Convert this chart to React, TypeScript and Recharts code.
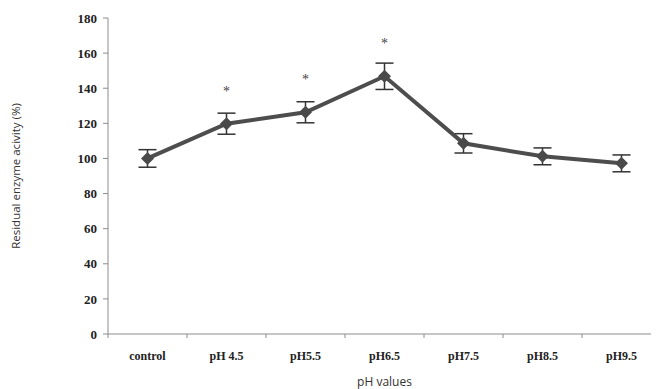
import { LineChart, Line, XAxis, YAxis, ErrorBar, LabelList } from 'recharts';

const categories = ['control', 'pH 4.5', 'pH5.5', 'pH6.5', 'pH7.5', 'pH8.5', 'pH9.5'];
const activity = [100, 119.8, 126.3, 146.8, 108.6, 101.2, 97.2];
const sd = [5, 6, 6, 7.5, 5.5, 4.8, 4.8];
const significant = [false, true, true, true, false, false, false];
const yTicks = [0, 20, 40, 60, 80, 100, 120, 140, 160, 180];

const data = categories.map((c, i) => ({ name: c, value: activity[i], err: sd[i], sig: significant[i] }));

const BAND = 79;
const axisGrey = '#8c8c8c';

function XTick(props: any) {
  const { x, y, payload, index } = props;
  return (
    <g>
      {index === 0 && <line x1={x - BAND / 2} x2={x - BAND / 2} y1={y - 8} y2={y - 4} stroke={axisGrey} />}
      <line x1={x + BAND / 2} x2={x + BAND / 2} y1={y - 8} y2={y - 4} stroke={axisGrey} />
      <text x={x} y={y + 18} textAnchor="middle" fontFamily="Liberation Serif" fontWeight="bold" fontSize={12} fill="#222">
        {payload.value}
      </text>
    </g>
  );
}

function Diamond(props: any) {
  const { cx, cy } = props;
  const r = 6.5;
  return <path d={`M${cx},${cy - r}L${cx + r},${cy}L${cx},${cy + r}L${cx - r},${cy}Z`} fill="#4a4a4a" />;
}

function Star(props: any) {
  const { x, y, index } = props;
  if (!significant[index]) return null;
  return (
    <text x={x} y={y - 28} textAnchor="middle" fontFamily="Liberation Serif" fontSize={14} fill="#444">
      *
    </text>
  );
}

export default function App() {
  return (
    <div style={{ margin: '-8px 0 0 -8px', width: 659, height: 389, overflow: 'hidden' }}>
      <LineChart width={661} height={389} data={data} margin={{ top: 18, right: 0, bottom: 0, left: 0 }}>
        <XAxis
          dataKey="name"
          stroke={axisGrey}
          tickLine={false}
          tick={<XTick />}
          height={55}
          padding={{ left: BAND / 2, right: BAND / 2 }}
          interval={0}
          label={{ value: 'pH values', position: 'insideBottom', offset: 3, fontFamily: 'Open Sans', fontSize: 12, fill: '#333' }}
        />
        <YAxis
          domain={[0, 180]}
          ticks={yTicks}
          width={108}
          stroke={axisGrey}
          tickSize={5}
          tick={{ fontFamily: 'Liberation Serif', fontWeight: 'bold', fontSize: 13, fill: '#222', dx: -4 }}
          label={{
            value: 'Residual enzyme acivity (%)',
            angle: -90,
            position: 'insideLeft',
            offset: 16,
            style: { textAnchor: 'middle', fontFamily: 'Open Sans', fontSize: 11.5, fill: '#333' },
          }}
        />
        <Line
          dataKey="value"
          stroke="#4d4d4d"
          strokeWidth={4}
          dot={<Diamond />}
          activeDot={false}
          isAnimationActive={false}
        >
          <ErrorBar dataKey="err" width={9} stroke="#333" strokeWidth={1.5} />
          <LabelList dataKey="value" content={<Star />} />
        </Line>
      </LineChart>
    </div>
  );
}
